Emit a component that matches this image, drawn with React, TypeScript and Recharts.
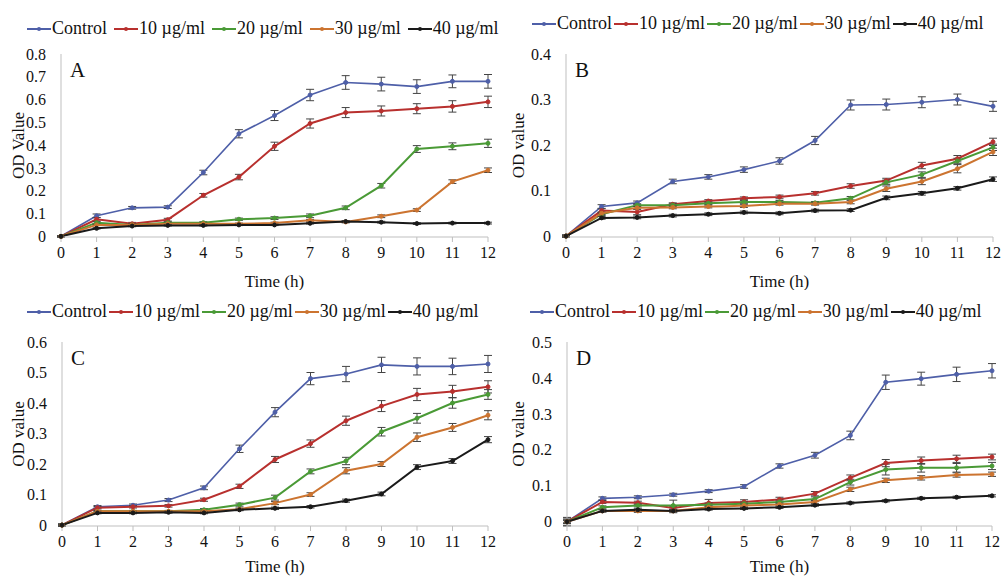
import { LineChart, Line, XAxis, YAxis, ErrorBar } from 'recharts';

const hours = [0, 1, 2, 3, 4, 5, 6, 7, 8, 9, 10, 11, 12];
const seriesNames = ['Control', '10 µg/ml', '20 µg/ml', '30 µg/ml', '40 µg/ml'];
const seriesColors = ['#4E5FA8', '#B8302E', '#4A9A36', '#CC7430', '#1A1A1A'];

// Panel A
const aControl = [0, 0.09, 0.125, 0.128, 0.28, 0.45, 0.53, 0.62, 0.675, 0.668, 0.657, 0.68, 0.68];
const a10 = [0, 0.075, 0.055, 0.073, 0.18, 0.26, 0.395, 0.495, 0.543, 0.55, 0.56, 0.57, 0.59];
const a20 = [0, 0.06, 0.05, 0.06, 0.06, 0.075, 0.08, 0.09, 0.125, 0.222, 0.383, 0.395, 0.408];
const a30 = [0, 0.05, 0.05, 0.055, 0.055, 0.055, 0.058, 0.07, 0.063, 0.088, 0.115, 0.24, 0.29];
const a40 = [0, 0.035, 0.045, 0.048, 0.048, 0.05, 0.05, 0.057, 0.065, 0.062, 0.056, 0.058, 0.058];
const aControlErr = [0.003, 0.008, 0.006, 0.006, 0.01, 0.018, 0.022, 0.025, 0.03, 0.03, 0.03, 0.028, 0.03];
const a10Err = [0.003, 0.008, 0.006, 0.006, 0.008, 0.012, 0.018, 0.02, 0.022, 0.022, 0.022, 0.025, 0.025];
const a20Err = [0.002, 0.004, 0.004, 0.004, 0.004, 0.005, 0.006, 0.008, 0.008, 0.01, 0.015, 0.015, 0.018];
const a30Err = [0.002, 0.003, 0.003, 0.003, 0.003, 0.003, 0.004, 0.004, 0.004, 0.006, 0.006, 0.008, 0.01];
const a40Err = [0.002, 0.003, 0.003, 0.003, 0.003, 0.003, 0.003, 0.003, 0.004, 0.004, 0.004, 0.004, 0.004];

// Panel B
const bControl = [0, 0.065, 0.073, 0.12, 0.13, 0.146, 0.165, 0.21, 0.288, 0.289, 0.294, 0.3, 0.285];
const b10 = [0, 0.056, 0.053, 0.07, 0.077, 0.083, 0.086, 0.094, 0.11, 0.122, 0.155, 0.17, 0.207];
const b20 = [0, 0.048, 0.068, 0.068, 0.072, 0.075, 0.075, 0.073, 0.083, 0.118, 0.135, 0.165, 0.195];
const b30 = [0, 0.05, 0.062, 0.063, 0.065, 0.066, 0.071, 0.071, 0.075, 0.104, 0.12, 0.148, 0.185];
const b40 = [0, 0.04, 0.041, 0.045, 0.048, 0.052, 0.05, 0.056, 0.057, 0.084, 0.094, 0.105, 0.125];
const bControlErr = [0.002, 0.004, 0.004, 0.005, 0.005, 0.006, 0.007, 0.009, 0.011, 0.012, 0.012, 0.012, 0.011];
const b10Err = [0.002, 0.004, 0.006, 0.003, 0.003, 0.003, 0.004, 0.004, 0.005, 0.005, 0.007, 0.007, 0.008];
const b20Err = [0.002, 0.003, 0.003, 0.003, 0.003, 0.003, 0.003, 0.003, 0.004, 0.005, 0.006, 0.006, 0.007];
const b30Err = [0.002, 0.003, 0.003, 0.003, 0.003, 0.003, 0.003, 0.003, 0.004, 0.006, 0.007, 0.009, 0.008];
const b40Err = [0.002, 0.003, 0.003, 0.003, 0.003, 0.003, 0.003, 0.003, 0.003, 0.004, 0.004, 0.004, 0.005];

// Panel C
const cControl = [0, 0.06, 0.065, 0.082, 0.122, 0.25, 0.37, 0.48, 0.495, 0.525, 0.52, 0.52, 0.528];
const c10 = [0, 0.057, 0.06, 0.063, 0.083, 0.127, 0.215, 0.267, 0.342, 0.39, 0.428, 0.438, 0.453];
const c20 = [0, 0.045, 0.045, 0.045, 0.05, 0.067, 0.09, 0.176, 0.21, 0.306, 0.35, 0.4, 0.428];
const c30 = [0, 0.045, 0.045, 0.045, 0.045, 0.052, 0.072, 0.1, 0.178, 0.2, 0.288, 0.32, 0.36];
const c40 = [0, 0.04, 0.04, 0.042, 0.04, 0.05, 0.055, 0.06, 0.08, 0.102, 0.19, 0.21, 0.28];
const cControlErr = [0.003, 0.004, 0.004, 0.005, 0.006, 0.012, 0.015, 0.02, 0.025, 0.025, 0.028, 0.027, 0.028];
const c10Err = [0.003, 0.004, 0.004, 0.004, 0.005, 0.007, 0.01, 0.012, 0.015, 0.018, 0.02, 0.02, 0.02];
const c20Err = [0.003, 0.003, 0.003, 0.003, 0.004, 0.005, 0.008, 0.008, 0.012, 0.014, 0.016, 0.017, 0.016];
const c30Err = [0.003, 0.003, 0.003, 0.003, 0.003, 0.004, 0.005, 0.006, 0.01, 0.008, 0.014, 0.013, 0.015];
const c40Err = [0.003, 0.003, 0.003, 0.003, 0.003, 0.003, 0.004, 0.004, 0.005, 0.006, 0.008, 0.008, 0.01];

// Panel D
const dControl = [0, 0.065, 0.068, 0.075, 0.085, 0.098, 0.155, 0.185, 0.24, 0.388, 0.398, 0.41, 0.42];
const d10 = [0, 0.055, 0.053, 0.038, 0.052, 0.055, 0.062, 0.078, 0.122, 0.163, 0.17, 0.175, 0.18];
const d20 = [0, 0.04, 0.045, 0.045, 0.047, 0.05, 0.055, 0.063, 0.11, 0.145, 0.15, 0.15, 0.155];
const d30 = [0, 0.03, 0.03, 0.03, 0.04, 0.045, 0.048, 0.055, 0.09, 0.115, 0.122, 0.13, 0.132];
const d40 = [0, 0.03, 0.033, 0.03, 0.035, 0.037, 0.04, 0.046, 0.052, 0.058, 0.065, 0.068, 0.072];
const dControlErr = [0.012, 0.004, 0.004, 0.004, 0.004, 0.005, 0.006, 0.008, 0.012, 0.02, 0.018, 0.02, 0.02];
const d10Err = [0.01, 0.004, 0.004, 0.004, 0.01, 0.006, 0.006, 0.006, 0.008, 0.01, 0.01, 0.01, 0.008];
const d20Err = [0.005, 0.004, 0.004, 0.015, 0.005, 0.005, 0.005, 0.006, 0.008, 0.015, 0.012, 0.012, 0.01];
const d30Err = [0.005, 0.003, 0.004, 0.005, 0.004, 0.004, 0.004, 0.004, 0.006, 0.006, 0.006, 0.006, 0.006];
const d40Err = [0.003, 0.003, 0.003, 0.003, 0.003, 0.003, 0.003, 0.003, 0.003, 0.003, 0.003, 0.003, 0.003];

const yTicksA = [0, 0.1, 0.2, 0.3, 0.4, 0.5, 0.6, 0.7, 0.8];
const yTicksB = [0, 0.1, 0.2, 0.3, 0.4];
const yTicksC = [0, 0.1, 0.2, 0.3, 0.4, 0.5, 0.6];
const yTicksD = [0, 0.1, 0.2, 0.3, 0.4, 0.5];

const FONT = "'Liberation Serif', 'Times New Roman', Times, 'DejaVu Serif', serif";
const AXIS_GRAY = '#BFBFBF';

function buildRows(series: number[][], errs: number[][]) {
  return hours.map((t, i) => {
    const row: Record<string, number> = { t };
    series.forEach((s, k) => {
      row['s' + k] = s[i];
      row['e' + k] = errs[k][i];
    });
    return row;
  });
}

function YTitle(props: any) {
  const { viewBox, value, xPos } = props;
  const cy = viewBox.y + viewBox.height / 2;
  return (
    <text x={xPos} y={cy} transform={`rotate(-90 ${xPos} ${cy})`} textAnchor="middle"
      dominantBaseline="central" style={{ fontFamily: FONT, fontSize: 17 }} fill="#111">
      {value}
    </text>
  );
}

function XTitle(props: any) {
  const { viewBox, value, dy } = props;
  return (
    <text x={viewBox.x + viewBox.width / 2} y={viewBox.y + dy} textAnchor="middle"
      dominantBaseline="central" style={{ fontFamily: FONT, fontSize: 17 }} fill="#111">
      {value}
    </text>
  );
}

function SeriesLegend({ gap }: { gap: number }) {
  return (
    <div style={{ display: 'flex', alignItems: 'center', fontFamily: FONT, fontSize: 18, color: '#111', whiteSpace: 'nowrap' }}>
      {seriesNames.map((name, k) => (
        <div key={name} style={{ display: 'flex', alignItems: 'center', marginRight: gap }}>
          <svg width={24} height={10}>
            <line x1={0} y1={5} x2={24} y2={5} stroke={seriesColors[k]} strokeWidth={2} />
            <circle cx={12} cy={5} r={2} fill={seriesColors[k]} />
          </svg>
          <span style={{ marginLeft: 1 }}>{name}</span>
        </div>
      ))}
    </div>
  );
}

interface PanelProps {
  left: number;
  top: number;
  width: number;
  height: number;
  plotLeft: number;
  plotRight: number;
  plotTop: number;
  plotBottom: number;
  titleDy: number;
  yTicks: number[];
  rows: Record<string, number>[];
  letter: string;
  yLabel: string;
  legendX: number;
  legendY: number;
  legendGap: number;
}

function Panel(p: PanelProps) {
  const yMax = p.yTicks[p.yTicks.length - 1];
  const tickStyle = { fill: '#111', fontSize: 16, style: { fontFamily: FONT } };
  return (
    <div style={{ position: 'absolute', left: p.left, top: p.top, width: p.width, height: p.height }}>
      <div style={{ position: 'absolute', left: p.legendX, top: p.legendY - 11 }}>
        <SeriesLegend gap={p.legendGap} />
      </div>
      <LineChart width={p.width} height={p.height} data={p.rows} style={{ fontFamily: FONT }}
        margin={{ top: p.plotTop, right: p.width - p.plotRight, left: 0, bottom: 0 }}>
        <XAxis dataKey="t" type="number" domain={[0, 12]} ticks={hours} interval={0}
          height={p.height - p.plotBottom} stroke={AXIS_GRAY} tickSize={5} tickMargin={5}
          tick={tickStyle}
          label={<XTitle value="Time (h)" dy={p.titleDy} />} />
        <YAxis type="number" domain={[0, yMax]} ticks={p.yTicks} interval={0} width={p.plotLeft}
          stroke={AXIS_GRAY} tickLine={false} tickMargin={9}
          tick={tickStyle}
          label={<YTitle value={p.yLabel} xPos={18} />} />
        {seriesNames.map((name, k) => (
          <Line key={name} dataKey={'s' + k} name={name} stroke={seriesColors[k]}
            strokeWidth={k === 0 ? 1.6 : 2} isAnimationActive={false}
            dot={{ r: 2, fill: seriesColors[k], stroke: seriesColors[k], strokeWidth: 1 }}>
            <ErrorBar dataKey={'e' + k} width={4} stroke="#444" strokeWidth={1} direction="y" />
          </Line>
        ))}
      </LineChart>
      <div style={{ position: 'absolute', left: p.plotLeft + 9, top: p.plotTop + 4, fontFamily: FONT, fontSize: 21, color: '#111' }}>
        {p.letter}
      </div>
    </div>
  );
}

const rowsA = buildRows([aControl, a10, a20, a30, a40], [aControlErr, a10Err, a20Err, a30Err, a40Err]);
const rowsB = buildRows([bControl, b10, b20, b30, b40], [bControlErr, b10Err, b20Err, b30Err, b40Err]);
const rowsC = buildRows([cControl, c10, c20, c30, c40], [cControlErr, c10Err, c20Err, c30Err, c40Err]);
const rowsD = buildRows([dControl, d10, d20, d30, d40], [dControlErr, d10Err, d20Err, d30Err, d40Err]);

export default function App() {
  return (
    <div style={{ position: 'absolute', left: 0, top: 0, width: 1002, height: 577, background: '#fff', overflow: 'hidden', fontFamily: FONT }}>
      <Panel left={0} top={0} width={500} height={290} plotLeft={61} plotRight={488} plotTop={54} plotBottom={237} titleDy={44}
        yTicks={yTicksA} rows={rowsA} letter="A" yLabel="OD Value" legendX={27} legendY={29} legendGap={7} />
      <Panel left={500} top={0} width={502} height={290} plotLeft={66} plotRight={493} plotTop={54} plotBottom={237} titleDy={44}
        yTicks={yTicksB} rows={rowsB} letter="B" yLabel="OD value" legendX={32} legendY={24} legendGap={2} />
      <Panel left={0} top={290} width={500} height={287} plotLeft={62} plotRight={488} plotTop={52} plotBottom={236} titleDy={40}
        yTicks={yTicksC} rows={rowsC} letter="C" yLabel="OD value" legendX={27} legendY={22} legendGap={2} />
      <Panel left={500} top={290} width={502} height={287} plotLeft={67} plotRight={492} plotTop={52} plotBottom={236} titleDy={40}
        yTicks={yTicksD} rows={rowsD} letter="D" yLabel="OD value" legendX={30} legendY={22} legendGap={2} />
    </div>
  );
}
